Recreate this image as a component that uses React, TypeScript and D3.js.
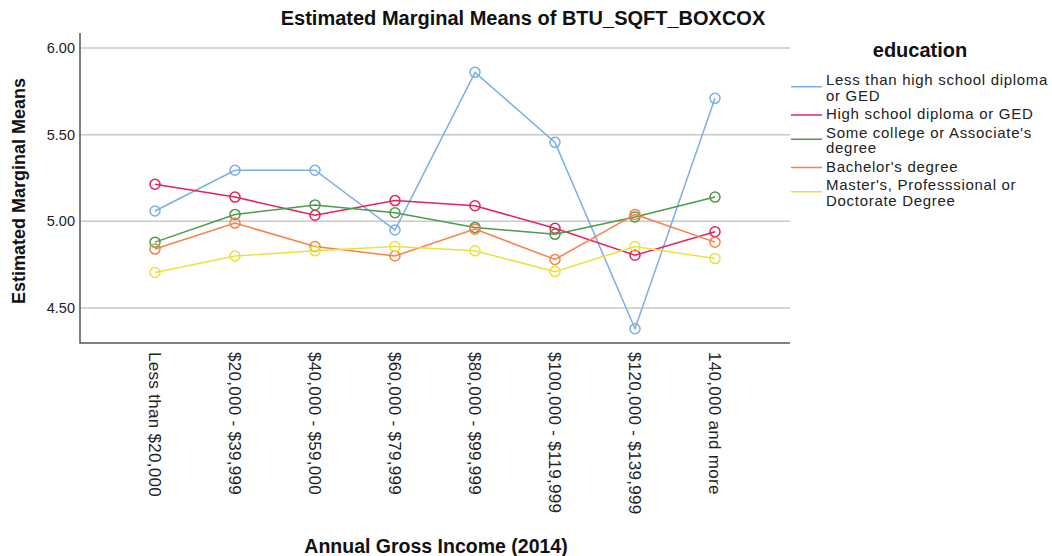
import { useEffect, useRef } from "react";
import * as d3 from "d3";

const incomes = [
  "Less than $20,000",
  "$20,000 - $39,999",
  "$40,000 - $59,000",
  "$60,000 - $79,999",
  "$80,000 - $99,999",
  "$100,000 - $119,999",
  "$120,000 - $139,999",
  "140,000 and more",
];

const lessThanHS = [5.06, 5.295, 5.295, 4.95, 5.86, 5.456, 4.38, 5.71];
const highSchool = [5.214, 5.14, 5.035, 5.12, 5.09, 4.96, 4.805, 4.94];
const someCollege = [4.88, 5.04, 5.095, 5.05, 4.965, 4.925, 5.025, 5.14];
const bachelor = [4.84, 4.99, 4.855, 4.8, 4.955, 4.78, 5.04, 4.88];
const masters = [4.705, 4.8, 4.83, 4.855, 4.83, 4.71, 4.855, 4.785];

const yTicks = [4.5, 5.0, 5.5, 6.0];

const series = [
  { lines: ["Less than high school diploma", "or GED"], values: lessThanHS, color: "#7aaee9" },
  { lines: ["High school diploma or GED"], values: highSchool, color: "#e2245a" },
  { lines: ["Some college or Associate's", "degree"], values: someCollege, color: "#4c9b4a" },
  { lines: ["Bachelor's degree"], values: bachelor, color: "#fa8048" },
  { lines: ["Master's, Professsional or", "Doctorate Degree"], values: masters, color: "#e9e23e" },
];

const W = 1052;
const H = 556;
const left = 80;
const right = 790;
const top = 33;
const bottom = 343;

export default function App() {
  const ref = useRef<SVGSVGElement>(null);

  useEffect(() => {
    const svg = d3.select(ref.current);
    svg.selectAll("*").remove();
    const font = "'Liberation Sans', Arial, sans-serif";

    const x = d3.scalePoint<string>().domain(incomes).range([left, right]).padding(0.9375);
    const y = d3.scaleLinear().domain([4.298, 6.087]).range([bottom, top]);

    // gridlines
    svg
      .append("g")
      .selectAll("line")
      .data(yTicks)
      .join("line")
      .attr("x1", left)
      .attr("x2", right)
      .attr("y1", (d) => y(d))
      .attr("y2", (d) => y(d))
      .attr("stroke", "#c8c8c8")
      .attr("stroke-width", 1.5);

    // y tick labels
    svg
      .append("g")
      .selectAll("text")
      .data(yTicks)
      .join("text")
      .attr("x", left - 5)
      .attr("y", (d) => y(d))
      .attr("dy", "0.35em")
      .attr("text-anchor", "end")
      .attr("font-family", font)
      .attr("font-size", 14.5)
      .attr("fill", "#222")
      .text((d) => d3.format(".2f")(d));

    // axes lines
    svg
      .append("path")
      .attr("d", `M${left},${top}V${bottom}H${right}`)
      .attr("fill", "none")
      .attr("stroke", "#555")
      .attr("stroke-width", 1.5);

    // x tick labels (rotated)
    svg
      .append("g")
      .selectAll("text")
      .data(incomes)
      .join("text")
      .attr("transform", (d) => `translate(${x(d)},352) rotate(90)`)
      .attr("dy", "0.35em")
      .attr("font-family", font)
      .attr("font-size", 17)
      .attr("letter-spacing", 0.3)
      .attr("fill", "#222")
      .text((d) => d);

    const line = d3
      .line<number>()
      .x((_, i) => x(incomes[i])!)
      .y((d) => y(d));

    series.forEach((s) => {
      const g = svg.append("g");
      g.append("path")
        .attr("d", line(s.values))
        .attr("fill", "none")
        .attr("stroke", s.color)
        .attr("stroke-width", 1.5);
      g.selectAll("circle")
        .data(s.values)
        .join("circle")
        .attr("cx", (_, i) => x(incomes[i])!)
        .attr("cy", (d) => y(d))
        .attr("r", 5)
        .attr("fill", "none")
        .attr("stroke", s.color)
        .attr("stroke-width", 1.5);
    });

    // titles
    svg
      .append("text")
      .attr("x", 523)
      .attr("y", 25)
      .attr("text-anchor", "middle")
      .attr("font-family", font)
      .attr("font-weight", "bold")
      .attr("font-size", 20)
      .attr("fill", "#111")
      .text("Estimated Marginal Means of BTU_SQFT_BOXCOX");

    svg
      .append("text")
      .attr("transform", `translate(25,191) rotate(-90)`)
      .attr("text-anchor", "middle")
      .attr("font-family", font)
      .attr("font-weight", "bold")
      .attr("font-size", 18)
      .attr("fill", "#111")
      .text("Estimated Marginal Means");

    svg
      .append("text")
      .attr("x", 436)
      .attr("y", 553)
      .attr("text-anchor", "middle")
      .attr("font-family", font)
      .attr("font-weight", "bold")
      .attr("font-size", 19.5)
      .attr("fill", "#111")
      .text("Annual Gross Income (2014)");

    // legend
    const leg = svg.append("g");
    leg
      .append("text")
      .attr("x", 920)
      .attr("y", 57)
      .attr("text-anchor", "middle")
      .attr("font-family", font)
      .attr("font-weight", "bold")
      .attr("font-size", 20)
      .attr("fill", "#111")
      .text("education");

    const lineH = 15.5;
    let ty = 80;
    series.forEach((s) => {
      const n = s.lines.length;
      const mid = ty + ((n - 1) * lineH) / 2 + (n > 1 ? -3 : -1);
      leg
        .append("line")
        .attr("x1", 791)
        .attr("x2", 822)
        .attr("y1", mid + 2)
        .attr("y2", mid + 2)
        .attr("stroke", s.color)
        .attr("stroke-width", 1.5);
      s.lines.forEach((t, j) => {
        leg
          .append("text")
          .attr("x", 826)
          .attr("y", ty + j * lineH)
          .attr("dy", "0.35em")
          .attr("font-family", font)
          .attr("font-size", 15)
          .attr("letter-spacing", 0.7)
          .attr("fill", "#222")
          .text(t);
      });
      ty += n * lineH + 3;
    });
  }, []);

  return (
    <svg
      ref={ref}
      width={W}
      height={H}
      style={{ position: "absolute", left: 0, top: 0, background: "#fff" }}
    />
  );
}
